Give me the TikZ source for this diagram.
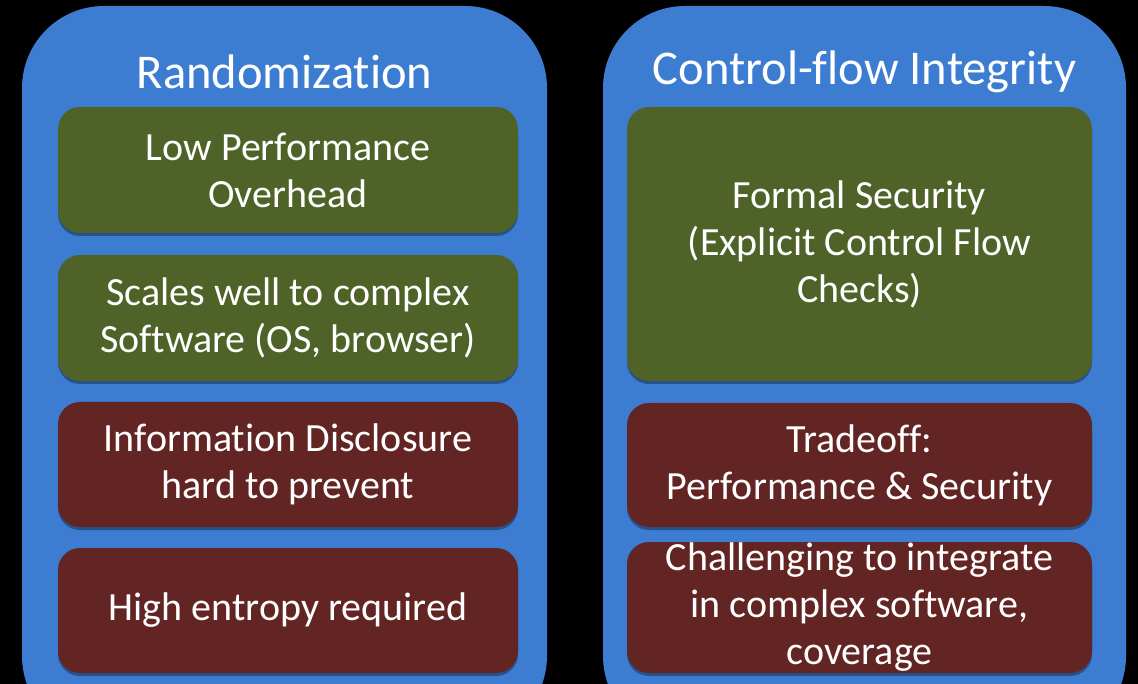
\documentclass[tikz,border=0pt]{standalone}
\usepackage{fontspec}
\setmainfont{Carlito}[Ligatures=NoCommon]
\usetikzlibrary{shadows}
\definecolor{panelblue}{HTML}{3C7DD2}
\definecolor{boxgreen}{HTML}{4F6228}
\definecolor{boxred}{HTML}{632523}
\begin{document}
\begin{tikzpicture}[x=1pt,y=-1pt,
  panel/.style={rounded corners=82pt, fill=panelblue},
  titletext/.style={text=white, font=\fontsize{48.5}{56}\selectfont, inner sep=0pt},
  itembox/.style={rounded corners=22pt, text=white, align=center, inner sep=0pt,
    font=\fontsize{40}{47}\selectfont,
    drop shadow={shadow xshift=0pt, shadow yshift=-3pt, opacity=0.35, fill=black}},
  pro/.style={itembox, fill=boxgreen},
  con/.style={itembox, fill=boxred}]
\useasboundingbox (0,0) rectangle (1138,684);
\clip (0,0) rectangle (1138,684);
\fill[black] (0,0) rectangle (1138,684);
% panels
\fill[panel] (22,6) rectangle (547,738);
\fill[panel] (603,6) rectangle (1126,738);
% titles
\node[titletext] (t1) at (284.5,72) {Randomization};
\node[titletext] (t2) at (864.5,72) {Control-flow Integrity};
% left column
\node[pro, minimum width=460pt, minimum height=126pt] (l1) at (288,170) {Low Performance\\Overhead};
\node[pro, minimum width=460pt, minimum height=126pt] (l2) at (288,318) {Scales well to complex\\Software (OS, browser)};
\node[con, minimum width=460pt, minimum height=125pt] (l3) at (288,464.5) {Information Disclosure\\hard to prevent};
\node[con, minimum width=460pt, minimum height=125pt] (l4) at (288,610.5) {High entropy required};
% right column
\node[pro, minimum width=465pt, minimum height=274pt] (r1) at (859.5,244) {Formal Security\\(Explicit Control Flow\\Checks)};
\node[con, minimum width=465pt, minimum height=124pt] (r2) at (859.5,465) {Tradeoff:\\Performance \& Security};
\node[con, minimum width=465pt, minimum height=131pt] (r3) at (859.5,607.5) {Challenging to integrate\\in complex software,\\coverage};
\end{tikzpicture}
\end{document}
